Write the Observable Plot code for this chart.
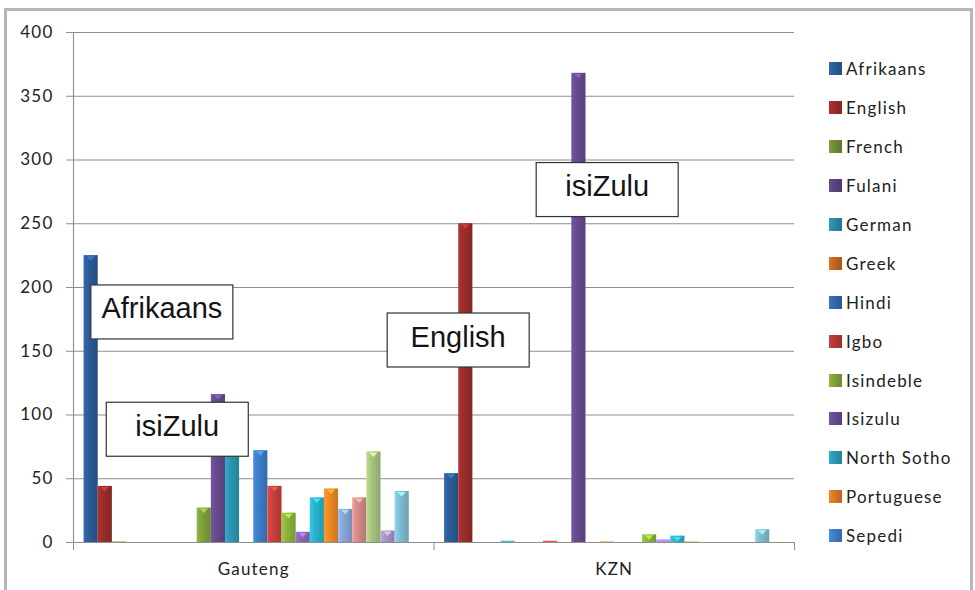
<!DOCTYPE html>
<html>
<head>
<meta charset="utf-8">
<script src="https://cdn.jsdelivr.net/npm/d3@7"></script>
<script src="https://cdn.jsdelivr.net/npm/@observablehq/plot@0.6"></script>
<style>
  html, body { margin: 0; padding: 0; background: #fff; }
  #chart { position: relative; width: 975px; height: 590px; overflow: hidden; background: #fff; }
  #chart svg { position: absolute; left: 0; top: 0; }
  #border { position: absolute; left: 4px; top: 8px; width: 963px; height: 620px; border: 3px solid #b6b6ba; pointer-events: none; }
  #legend { position: absolute; left: 829px; top: 49.5px; width: 138px;
            font: 17px Lato, sans-serif; letter-spacing: 1.2px; color: #222; }
  #legend .item { height: 38.9px; display: flex; align-items: center; white-space: nowrap; }
  #legend .swatch { width: 13px; height: 13px; margin-right: 4px; flex: none; }
</style>
</head>
<body>
<div id="chart"><div id="border"></div><div id="legend"></div></div>
<script>
// Regions (categories) and language series
const regions = ["Gauteng", "KZN"];
const languages = [
  "Afrikaans", "English", "French", "Fulani", "German", "Greek",
  "Hindi", "Igbo", "Isindeble", "Isizulu", "North Sotho", "Portuguese",
  "Sepedi", "Sesotho", "Setswana", "Shona", "Siswati", "Spanish",
  "Swahili", "Tshivenda", "Twi", "Urdu", "Xitsonga", "Yoruba"
];

// Number of speakers per language, one array per region
const gautengCounts = [225, 44, 0.5, 0, 0, 0, 0, 0, 27, 116, 80, 0, 72, 44, 23, 8, 35, 42, 26, 35, 71, 9, 40, 0];
const kznCounts     = [54, 250, 0, 0, 1, 0, 0, 1, 0, 368, 0, 0.5, 0, 0, 6, 2, 5, 0.5, 0, 0, 0, 0, 10, 0.5];

// Value axis ticks
const yTicks = [0, 50, 100, 150, 200, 250, 300, 350, 400];

// Callout boxes: region, series they sit over, height and a nudge in bar widths
const noteLabels  = ["Afrikaans", "isiZulu", "English", "isiZulu"];
const noteRegions = ["Gauteng", "Gauteng", "KZN", "KZN"];
const noteSeries  = ["Greek", "Hindi", "Afrikaans", "Portuguese"];
const noteValues  = [183, 91, 161, 279];
const noteOffsets = [0, 0.09, 0.46, 0];

// Series colours (office palette: darker, dark, base, lighter rounds)
const seriesColors = [
  "#2b5c98", "#9b2d2a", "#6e8c34", "#5a4480", "#2a8aa4", "#c2661e",
  "#3368ad", "#b23935", "#7fa13b", "#674b8f", "#2d97b3", "#db7726",
  "#3e7cc9", "#c8413d", "#8db43c", "#8a66b8", "#2ab2ce", "#f08a24",
  "#89a5d8", "#d58c8a", "#a8c47e", "#a793c6", "#7ebdd3", "#f7b98a"
];

const counts = {Gauteng: gautengCounts, KZN: kznCounts};
const gap = 1.5;                        // gap between clusters, in bar widths
const span = languages.length + gap;    // width of one region cluster
const slot = (region, language) =>
  regions.indexOf(region) * span + gap / 2 + languages.indexOf(language);

const rows = regions.flatMap(region => languages.map((language, i) => ({
  region, language, value: counts[region][i],
  x1: slot(region, language), x2: slot(region, language) + 1
})));
const regionRows = regions.map((region, i) => ({region, mid: i * span + span / 2}));
const bounds = d3.range(regions.length + 1).map(i => i * span);
const notes = noteLabels.map((label, i) => ({
  label, region: noteRegions[i], language: noteSeries[i], value: noteValues[i], offset: noteOffsets[i]
}));

const gridColor = "#8e8e8e";
const noteSize = 29;

const svg = Plot.plot({
  width: 975,
  height: 590,
  marginLeft: 73,
  marginRight: 181,
  marginTop: 32,
  marginBottom: 48,
  x: {domain: [0, regions.length * span]},
  y: {domain: [0, 400]},
  color: {type: "ordinal", domain: languages, range: languages.map((_, i) => `url(#bar-${i})`)},
  style: {fontFamily: "Lato, sans-serif", fontSize: "17px", color: "#222", background: "transparent", overflow: "visible"},
  marks: [
    Plot.gridY(yTicks, {stroke: gridColor, strokeOpacity: 1, strokeWidth: 1.1}),
    Plot.ruleX([0], {stroke: gridColor, strokeWidth: 1.1}),
    Plot.axisX(bounds, {tickSize: 8, tickFormat: () => "", label: null, stroke: gridColor}),
    Plot.axisY(yTicks, {tickSize: 7, tickPadding: 13, label: null, stroke: gridColor, fill: "#222", fontSize: 17}),
    Plot.rectY(rows, {x1: "x1", x2: "x2", y: "value", fill: "language"}),
    Plot.text(regionRows, {x: "mid", text: "region", frameAnchor: "bottom", dy: 32, fill: "#222", fontSize: 17}),
    Plot.text(notes, {
      x: d => slot(d.region, d.language) + 0.5 + d.offset,
      y: "value",
      text: "label",
      fontSize: noteSize,
      fontFamily: "'Liberation Sans', Arial, sans-serif",
      fill: "#141414"
    })
  ]
});

svg.style.letterSpacing = "1.2px";
document.getElementById("chart").prepend(svg);

// Bevelled bar fills
const defs = d3.select(svg).insert("defs", ":first-child");
seriesColors.forEach((c, i) => {
  const g = defs.append("linearGradient").attr("id", `bar-${i}`)
    .attr("x1", 0).attr("x2", 1).attr("y1", 0).attr("y2", 0);
  g.append("stop").attr("offset", "0%").attr("stop-color", d3.color(c).brighter(0.35).formatHex());
  g.append("stop").attr("offset", "35%").attr("stop-color", c);
  g.append("stop").attr("offset", "100%").attr("stop-color", d3.color(c).darker(0.45).formatHex());
});

// Light caps on top of each bar
const capColor = new Map(seriesColors.map((c, i) => [`url(#bar-${i})`, d3.color(c).brighter(0.9).formatHex()]));
svg.querySelectorAll("rect").forEach(bar => {
  const c = capColor.get(bar.getAttribute("fill"));
  if (!c) return;
  const x = +bar.getAttribute("x"), y = +bar.getAttribute("y");
  const w = +bar.getAttribute("width"), h = +bar.getAttribute("height");
  if (h < 5) { bar.setAttribute("fill", c); return; }
  const poly = document.createElementNS("http://www.w3.org/2000/svg", "polygon");
  poly.setAttribute("points", `${x + w * 0.2},${y + 1} ${x + w * 0.8},${y + 1} ${x + w / 2},${y + 5.5}`);
  poly.setAttribute("fill", c);
  poly.setAttribute("opacity", 0.85);
  bar.parentNode.insertBefore(poly, bar.nextSibling);
});

// White callout boxes behind the annotation text
Array.from(svg.querySelectorAll("text"))
  .filter(t => getComputedStyle(t).fontSize === `${noteSize}px`)
  .forEach(t => {
    t.style.letterSpacing = "0px";
    const b = t.getBBox();
    const cx = b.x + b.width / 2, cy = b.y + b.height / 2 + 3.5;
    const rect = document.createElementNS("http://www.w3.org/2000/svg", "rect");
    rect.setAttribute("x", cx - 71);
    rect.setAttribute("y", cy - 27);
    rect.setAttribute("width", 142);
    rect.setAttribute("height", 54);
    rect.setAttribute("fill", "#fff");
    rect.setAttribute("stroke", "#333");
    rect.setAttribute("stroke-width", 1.2);
    const tr = t.getAttribute("transform");
    if (tr) rect.setAttribute("transform", tr);
    t.parentNode.insertBefore(rect, t);
  });

// Legend: as many entries as fit in the space beside the plot
const legendRows = Math.floor(506 / 38.9);
const legend = d3.select("#legend");
languages.slice(0, legendRows).forEach((name, i) => {
  const c = seriesColors[i];
  const item = legend.append("div").attr("class", "item");
  item.append("div").attr("class", "swatch")
    .style("background", `linear-gradient(to right, ${d3.color(c).brighter(0.35).formatHex()}, ${c} 40%, ${d3.color(c).darker(0.45).formatHex()})`);
  item.append("span").text(name);
});
</script>
</body>
</html>
